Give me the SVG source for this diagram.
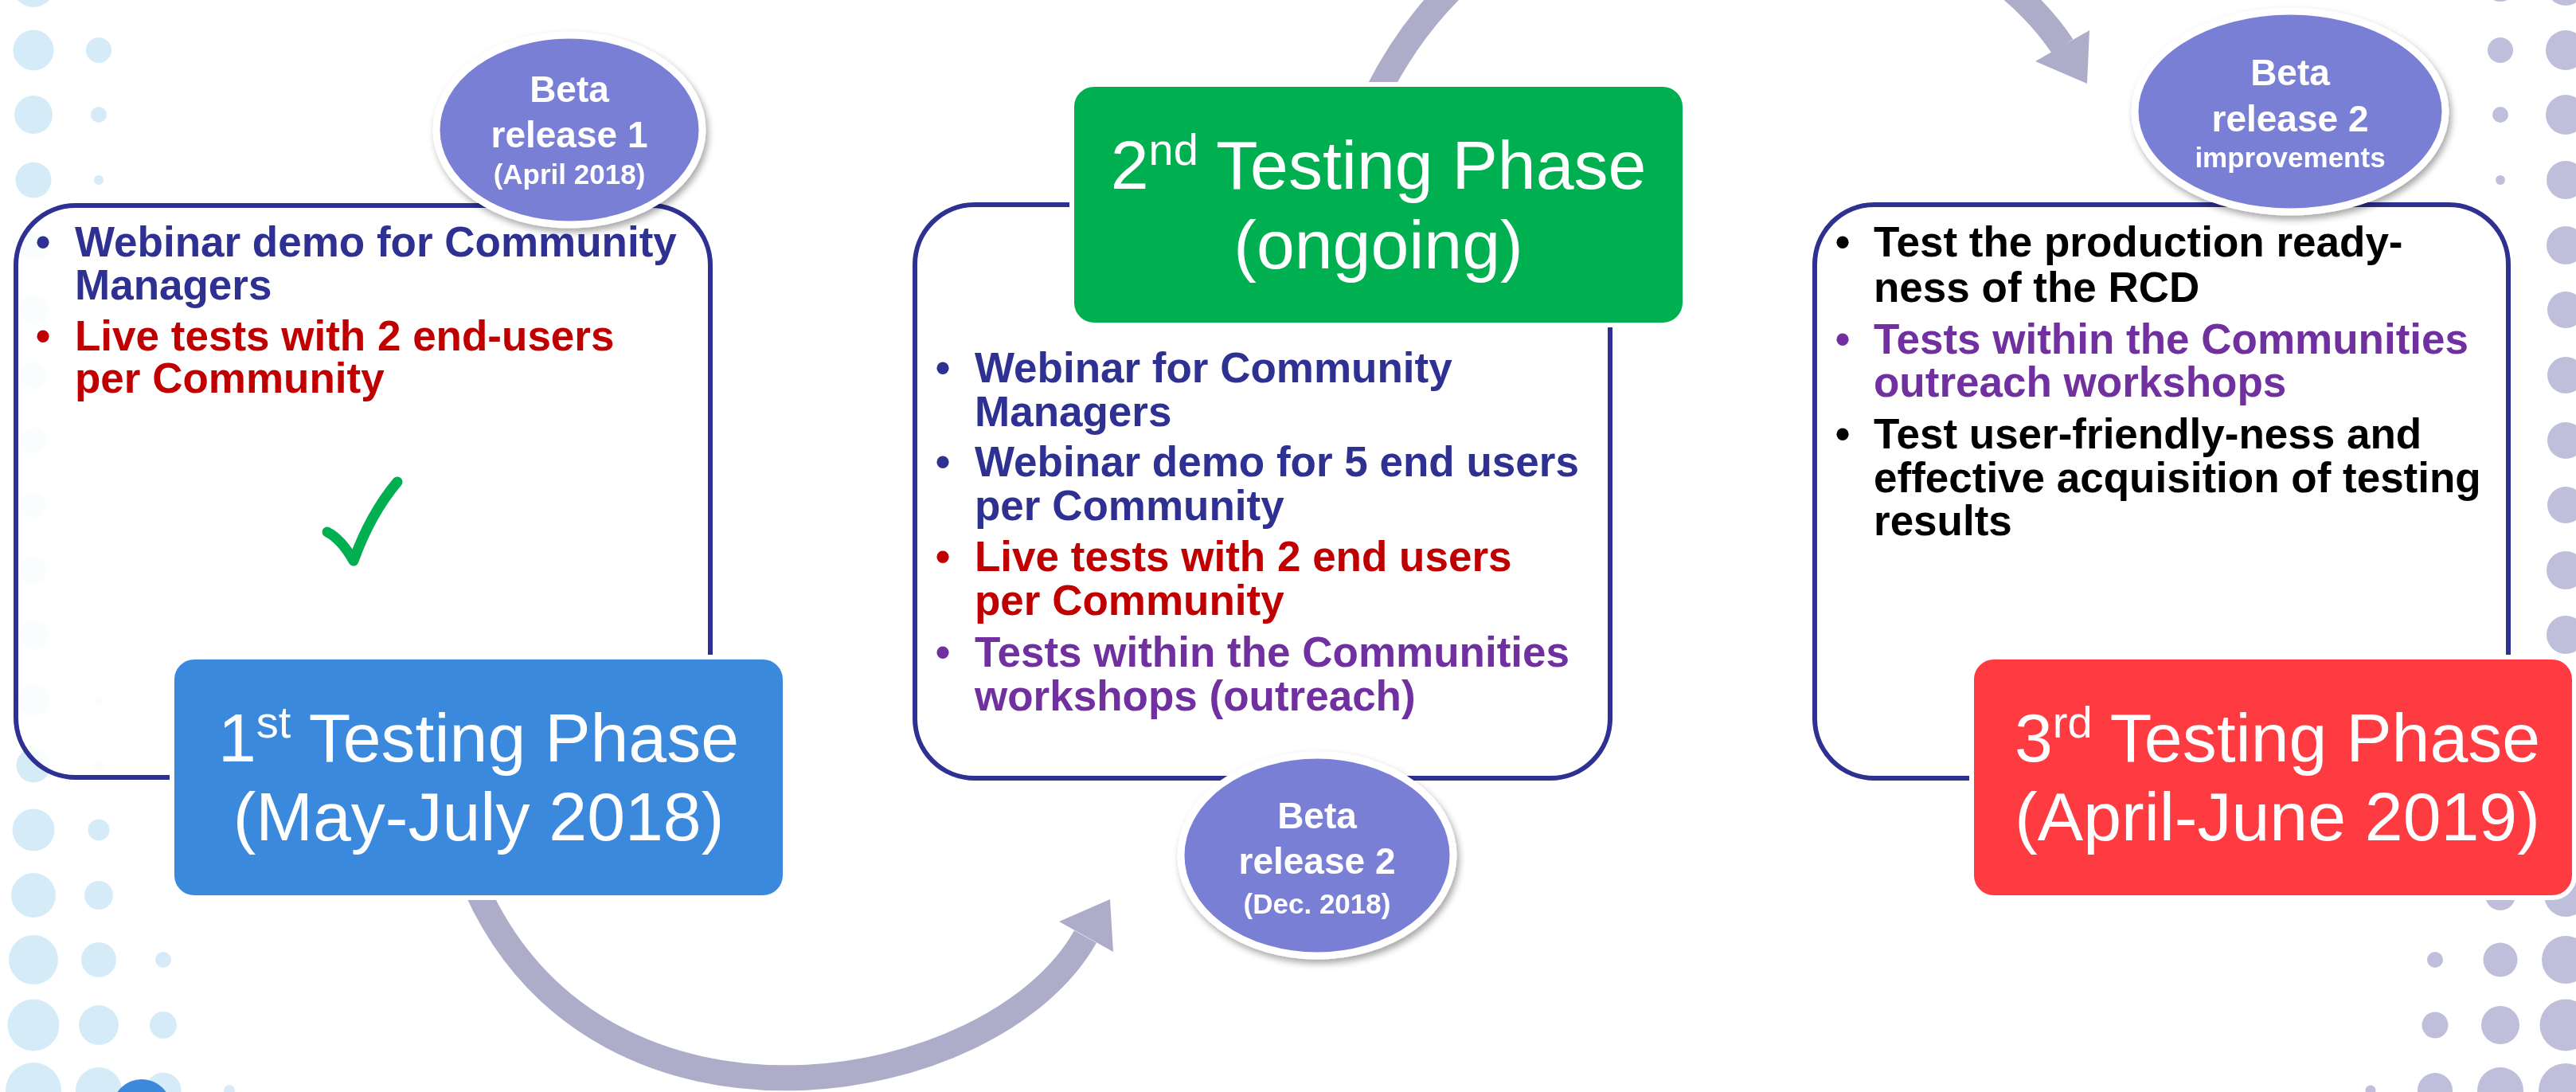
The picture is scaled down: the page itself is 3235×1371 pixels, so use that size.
<svg xmlns="http://www.w3.org/2000/svg" width="3235" height="1371" viewBox="0 0 3235 1371">
<defs>
<style>
.dl{fill:#D5ECF8}
.dr{fill:#BFBFDC}
.frame{fill:#FFFFFF;stroke:#2E3192;stroke-width:6}
.title{font-family:"Liberation Sans",Arial,sans-serif;font-size:86px;fill:#FFFFFF;text-anchor:middle}
.sup{font-size:56px}
.bub{fill:#7A7FD6;stroke:#FFFFFF;stroke-width:9}
.bt{font-family:"Liberation Sans",Arial,sans-serif;font-weight:bold;fill:#FFFFFF;text-anchor:middle}
.big{font-size:46px}
.small{font-size:35px}
.bl{font-family:"Liberation Sans",Arial,sans-serif;font-weight:bold;font-size:53px}
.bu{text-anchor:middle}
.navy{fill:#2E3192}
.red{fill:#C00000}
.pur{fill:#7030A0}
.blk{fill:#000000}
.arc{fill:none;stroke:#ADADC9;stroke-width:32}
.head{fill:#ADADC9}
</style>
<filter id="sh" x="-20%" y="-20%" width="140%" height="150%">
<feDropShadow dx="3" dy="5" stdDeviation="4" flood-color="#000000" flood-opacity="0.35"/>
</filter>
</defs>
<rect width="3235" height="1371" fill="#FFFFFF"/>
<g id="dots-left">
<circle class="dl" cx="42" cy="-18" r="27"/>
<circle class="dl" cx="42" cy="63" r="25.5"/>
<circle class="dl" cx="42" cy="144" r="24"/>
<circle class="dl" cx="42" cy="226" r="22.5"/>
<circle class="dl" cx="42" cy="308" r="19"/>
<circle class="dl" cx="42" cy="389" r="18.5"/>
<circle class="dl" cx="42" cy="471" r="17"/>
<circle class="dl" cx="42" cy="553" r="16.5"/>
<circle class="dl" cx="42" cy="634" r="16.5"/>
<circle class="dl" cx="42" cy="716" r="17"/>
<circle class="dl" cx="42" cy="797" r="18.5"/>
<circle class="dl" cx="42" cy="879" r="20"/>
<circle class="dl" cx="42" cy="961" r="21.5"/>
<circle class="dl" cx="42" cy="1042" r="26.5"/>
<circle class="dl" cx="42" cy="1124" r="28"/>
<circle class="dl" cx="42" cy="1205" r="31"/>
<circle class="dl" cx="42" cy="1287" r="32.5"/>
<circle class="dl" cx="42" cy="1369" r="35"/>
<circle class="dl" cx="124" cy="-18" r="18"/>
<circle class="dl" cx="124" cy="63" r="16"/>
<circle class="dl" cx="124" cy="144" r="10"/>
<circle class="dl" cx="124" cy="226" r="6"/>
<circle class="dl" cx="124" cy="879" r="5"/>
<circle class="dl" cx="124" cy="961" r="7"/>
<circle class="dl" cx="124" cy="1042" r="13.5"/>
<circle class="dl" cx="124" cy="1124" r="18"/>
<circle class="dl" cx="124" cy="1205" r="22"/>
<circle class="dl" cx="124" cy="1287" r="25"/>
<circle class="dl" cx="124" cy="1369" r="29"/>
<circle class="dl" cx="205" cy="1205" r="10"/>
<circle class="dl" cx="205" cy="1287" r="17"/>
<circle class="dl" cx="205" cy="1369" r="22.5"/>
<circle class="dl" cx="288" cy="1369" r="7"/>
<circle cx="178" cy="1392" r="37" fill="#3A89DD"/>
</g>
<g id="dots-right">
<circle class="dr" cx="3222" cy="-18" r="25"/>
<circle class="dr" cx="3222" cy="63" r="25"/>
<circle class="dr" cx="3222" cy="144" r="25"/>
<circle class="dr" cx="3222" cy="226" r="24"/>
<circle class="dr" cx="3222" cy="308" r="24"/>
<circle class="dr" cx="3222" cy="389" r="23"/>
<circle class="dr" cx="3222" cy="471" r="23"/>
<circle class="dr" cx="3222" cy="553" r="23"/>
<circle class="dr" cx="3222" cy="634" r="23"/>
<circle class="dr" cx="3222" cy="716" r="24"/>
<circle class="dr" cx="3222" cy="797" r="24"/>
<circle class="dr" cx="3222" cy="1124" r="27"/>
<circle class="dr" cx="3222" cy="1205" r="30"/>
<circle class="dr" cx="3222" cy="1287" r="32.5"/>
<circle class="dr" cx="3222" cy="1369" r="34"/>
<circle class="dr" cx="3140" cy="-18" r="20"/>
<circle class="dr" cx="3140" cy="63" r="16"/>
<circle class="dr" cx="3140" cy="144" r="10"/>
<circle class="dr" cx="3140" cy="226" r="6"/>
<circle class="dr" cx="3140" cy="1124" r="19"/>
<circle class="dr" cx="3140" cy="1205" r="21.5"/>
<circle class="dr" cx="3140" cy="1287" r="24"/>
<circle class="dr" cx="3140" cy="1369" r="29"/>
<circle class="dr" cx="3058" cy="1205" r="10"/>
<circle class="dr" cx="3058" cy="1287" r="16.5"/>
<circle class="dr" cx="3058" cy="1369" r="22"/>
<circle class="dr" cx="2977" cy="1369" r="6.5"/>
</g>
<g id="connectors">
<path class="arc" d="M598,1115 C756,1466 1249,1379 1363,1176"/>
<polygon class="head" points="1330,1157 1394,1129 1398,1195"/>
<path class="arc" d="M1729,118 C1931,-283 2447,-158 2590,58"/>
<polygon class="head" points="2556,77 2621,105 2624,38"/>
</g>
<g id="phase1">
<rect class="frame" x="20" y="258" width="872" height="718" rx="75" ry="75" fill-opacity="0.86"/>
<text class="bl navy"><tspan class="bu" x="54" y="322">•</tspan><tspan x="94" y="322">Webinar demo for Community</tspan><tspan x="94" y="376">Managers</tspan></text>
<text class="bl red"><tspan class="bu" x="54" y="440">•</tspan><tspan x="94" y="440">Live tests with 2 end-users</tspan><tspan x="94" y="493">per Community</tspan></text>
<path d="M411,668 C425,675 436,690 444,704 C458,665 478,630 499,605" fill="none" stroke="#00B050" stroke-width="13" stroke-linecap="round" stroke-linejoin="round"/>
<rect x="216" y="825" width="770" height="302" rx="28" ry="28" fill="#3A89DD" stroke="#FFFFFF" stroke-width="6"/>
<text class="title"><tspan x="601" y="956">1<tspan class="sup" dy="-30">st</tspan><tspan dy="30"> Testing Phase</tspan></tspan><tspan x="601" y="1055">(May-July 2018)</tspan></text>
</g>
<g id="beta1" filter="url(#sh)">
<ellipse class="bub" cx="715" cy="163" rx="167" ry="119"/>
<text class="bt big" x="715" y="128">Beta</text>
<text class="bt big" x="715" y="185">release 1</text>
<text class="bt small" x="715" y="231">(April 2018)</text>
</g>
<g id="phase2">
<rect class="frame" x="1149" y="257" width="873" height="720" rx="75" ry="75"/>
<text class="bl navy"><tspan class="bu" x="1184" y="480">•</tspan><tspan x="1224" y="480">Webinar for Community</tspan><tspan x="1224" y="535">Managers</tspan></text>
<text class="bl navy"><tspan class="bu" x="1184" y="598">•</tspan><tspan x="1224" y="598">Webinar demo for 5 end users</tspan><tspan x="1224" y="653">per Community</tspan></text>
<text class="bl red"><tspan class="bu" x="1184" y="717">•</tspan><tspan x="1224" y="717">Live tests with 2 end users</tspan><tspan x="1224" y="772">per Community</tspan></text>
<text class="bl pur"><tspan class="bu" x="1184" y="837">•</tspan><tspan x="1224" y="837">Tests within the Communities</tspan><tspan x="1224" y="892">workshops (outreach)</tspan></text>
<rect x="1346" y="106" width="770" height="302" rx="28" ry="28" fill="#00B050" stroke="#FFFFFF" stroke-width="6"/>
<text class="title"><tspan x="1731" y="237">2<tspan class="sup" dy="-30">nd</tspan><tspan dy="30"> Testing Phase</tspan></tspan><tspan x="1731" y="337">(ongoing)</tspan></text>
</g>
<g id="beta2" filter="url(#sh)">
<ellipse class="bub" cx="1654" cy="1074" rx="171" ry="126"/>
<text class="bt big" x="1654" y="1040">Beta</text>
<text class="bt big" x="1654" y="1097">release 2</text>
<text class="bt small" x="1654" y="1147">(Dec. 2018)</text>
</g>
<g id="phase3">
<rect class="frame" x="2279" y="257" width="871" height="720" rx="75" ry="75"/>
<text class="bl blk"><tspan class="bu" x="2314" y="322">•</tspan><tspan x="2353" y="322">Test the production ready-</tspan><tspan x="2353" y="379">ness of the RCD</tspan></text>
<text class="bl pur"><tspan class="bu" x="2314" y="444">•</tspan><tspan x="2353" y="444">Tests within the Communities</tspan><tspan x="2353" y="498">outreach workshops</tspan></text>
<text class="bl blk"><tspan class="bu" x="2314" y="563">•</tspan><tspan x="2353" y="563">Test user-friendly-ness and</tspan><tspan x="2353" y="618">effective acquisition of testing</tspan><tspan x="2353" y="672">results</tspan></text>
<rect x="2476" y="825" width="757" height="302" rx="28" ry="28" fill="#FD3B40" stroke="#FFFFFF" stroke-width="6"/>
<text class="title"><tspan x="2860" y="956">3<tspan class="sup" dy="-30">rd</tspan><tspan dy="30"> Testing Phase</tspan></tspan><tspan x="2860" y="1055">(April-June 2019)</tspan></text>
</g>
<g id="beta3" filter="url(#sh)">
<ellipse class="bub" cx="2876" cy="140" rx="195" ry="126"/>
<text class="bt big" x="2876" y="107">Beta</text>
<text class="bt big" x="2876" y="165">release 2</text>
<text class="bt small" x="2876" y="210">improvements</text>
</g>
</svg>
